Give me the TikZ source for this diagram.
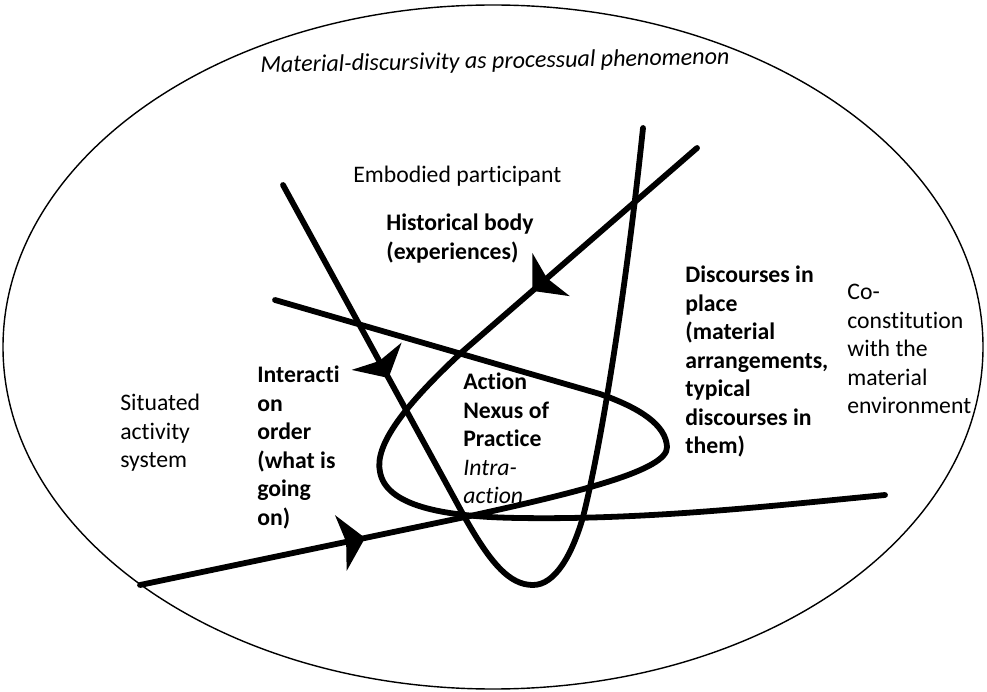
\documentclass[tikz,border=0pt]{standalone}
\usepackage{fontspec}
\setmainfont{Carlito}[Ligatures=NoCommon]
\usetikzlibrary{arrows.meta,decorations.markings}

\begin{document}
\begin{tikzpicture}[x=0.02cm,y=-0.02cm]
    \tikzset{strand/.style = {line width=3.3pt, line cap=round, line join=round}}
    \tikzset{flowtip/.tip = {Stealth[length=14pt,width=32pt,inset=3pt]}}
    \tikzset{headat/.style = {postaction={decorate}, decoration={markings, mark=at position #1 with {\arrow{flowtip}}}}}
    \tikzset{txt/.style = {inner sep=0pt, align=left, anchor=north west, font=\fontsize{13.5}{16.2}\selectfont}}
    \tikzset{boldtxt/.style = {txt, font=\fontsize{13.5}{16.2}\selectfont\bfseries}}
    \useasboundingbox (0,0) rectangle (987,692);
    % frame
    \draw[line width=0.8pt] (493,347) ellipse [x radius=490, y radius=342];
    \node[font=\fontsize{13.7}{16.2}\selectfont\itshape, rotate=1] (title) at (495,62) {Material-discursivity as processual phenomenon};
    % points
    \coordinate (vtop) at (283,185);
    \coordinate (vend) at (643,128);
    \coordinate (btop) at (697,148);
    \coordinate (bend) at (885,495);
    \coordinate (lstart) at (140,585);
    \coordinate (lend) at (275,300);
    % strands
    \draw[strand, headat=4.4cm] (vtop) -- (458,505) .. controls (490,565) and (510,585) .. (533,585)
        .. controls (555,585) and (572,555) .. (583,517) .. controls (600,450) and (625,300) .. (vend);
    \draw[strand, headat=4.36cm] (btop) -- (462,352) .. controls (405,405) and (374,445) .. (380,472)
        .. controls (386,505) and (440,517) .. (520,518) .. controls (650,520) and (780,505) .. (bend);
    \draw[strand, headat=4.6cm] (lstart) -- (470,516) .. controls (580,492) and (668,470) .. (667,447)
        .. controls (666,425) and (640,408) .. (600,394) -- (lend);
    % labels
    \node[txt, anchor=west] (embodied) at (353,176) {Embodied participant};
    \node[boldtxt] (body) at (386,214) {Historical body\\(experiences)};
    \node[boldtxt] (place) at (685,266) {Discourses in\\place\\(material\\arrangements,\\typical\\discourses in\\them)};
    \node[txt] (coconst) at (847,284) {Co-\\constitution\\with the\\material\\environment};
    \node[txt] (situated) at (120,394) {Situated\\activity\\system};
    \node[boldtxt] (order) at (257,366) {Interacti\\on\\order\\(what is\\going\\on)};
    \node[boldtxt] (action) at (463,373) {Action\\Nexus of\\Practice\\\textmd{\itshape Intra-}\\\textmd{\itshape action}};
\end{tikzpicture}
\end{document}
